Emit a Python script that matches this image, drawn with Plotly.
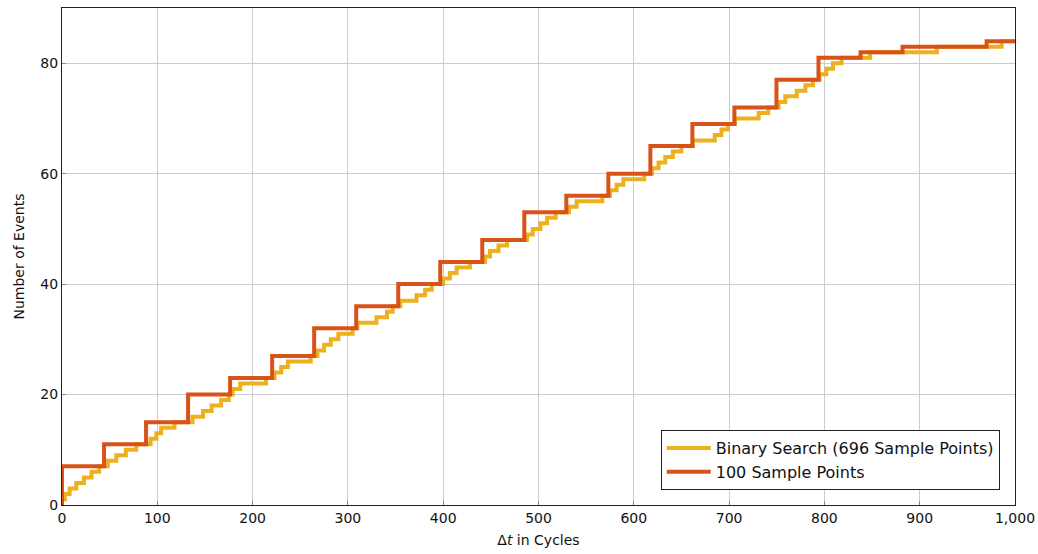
import plotly.graph_objects as go

# Event times found by binary search (each adds one event); count starts at 1 at t=0
binary_start = 1
binary_event_times = [
    3, 8, 15, 23, 31, 39,
    48, 57, 67, 78,
    93, 99, 104, 118,
    137, 148, 157, 167, 175,
    179, 187, 214,
    223, 230, 237, 261,
    268, 275, 282, 290, 305,
    310, 330, 341, 347,
    355, 372, 381, 388,
    400, 407, 414, 428,
    444, 449, 458, 467,
    488, 494, 502, 509, 518,
    532, 540, 567,
    575, 582, 589, 611,
    619, 626, 633, 641, 650,
    662, 685, 692, 699,
    706, 731, 741,
    752, 759, 771, 780, 788,
    795, 802, 809, 818,
    848,
    918,
    986,
]

# Coarse sampling: event count at each of the sample points
sample_x = [0, 44.1, 88.2, 132.3, 176.4, 220.5, 264.6, 308.7, 352.8, 396.9, 441.0,
            485.1, 529.2, 573.3, 617.4, 661.5, 705.6, 749.7, 793.8, 837.9, 882.0,
            926.1, 970.2, 1000]
sample_counts = [7, 11, 15, 20, 23, 27, 32, 36, 40, 44, 48,
                 53, 56, 60, 65, 69, 72, 77, 81, 82, 83,
                 83, 84, 84]

x_ticks = [0, 100, 200, 300, 400, 500, 600, 700, 800, 900, 1000]
x_tick_text = ["0", "100", "200", "300", "400", "500", "600", "700", "800", "900", "1,000"]
y_ticks = [0, 20, 40, 60, 80]

# Build the cumulative step series for the binary search
bin_x = [0]
bin_y = [binary_start]
count = binary_start
for t in binary_event_times:
    count += 1
    bin_x.append(t)
    bin_y.append(count)
bin_x.append(1000)
bin_y.append(count)

# Coarse series starts from zero at the origin
coarse_x = [0] + sample_x
coarse_y = [0] + sample_counts

YELLOW = "#EDB120"
ORANGE = "#D95319"
FONT = "DejaVu Sans"

fig = go.Figure()
fig.add_trace(go.Scatter(
    x=bin_x, y=bin_y, mode="lines", line=dict(shape="hv", color=YELLOW, width=4),
    name="Binary Search (696 Sample Points)",
))
fig.add_trace(go.Scatter(
    x=coarse_x, y=coarse_y, mode="lines", line=dict(shape="hv", color=ORANGE, width=4),
    name="100 Sample Points",
))

axis_common = dict(
    showgrid=True, gridcolor="#cccccc", gridwidth=1,
    showline=True, linecolor="#222222", linewidth=1, mirror=True,
    ticks="inside", ticklen=4, tickcolor="#888888",
    zeroline=False, automargin=False,
    tickfont=dict(family=FONT, size=14, color="#111111"),
)

fig.update_layout(
    width=1038, height=554,
    margin=dict(l=62, r=23, t=8, b=49),
    paper_bgcolor="white", plot_bgcolor="white",
    font=dict(family=FONT, size=14, color="#111111"),
    xaxis=dict(range=[0, 1000], tickvals=x_ticks, ticktext=x_tick_text,
               title=dict(text="Δ<i>t</i> in Cycles", font=dict(family=FONT, size=14), standoff=10),
               **axis_common),
    yaxis=dict(range=[0, 90], tickvals=y_ticks,
               title=dict(text="Number of Events", font=dict(family=FONT, size=14), standoff=12),
               **axis_common),
    legend=dict(
        x=0.984, y=0.03, xanchor="right", yanchor="bottom",
        bgcolor="white", bordercolor="#222222", borderwidth=1,
        font=dict(family=FONT, size=16, color="#111111"),
        itemwidth=44,
    ),
    showlegend=True,
)

fig.write_html("out.html")
